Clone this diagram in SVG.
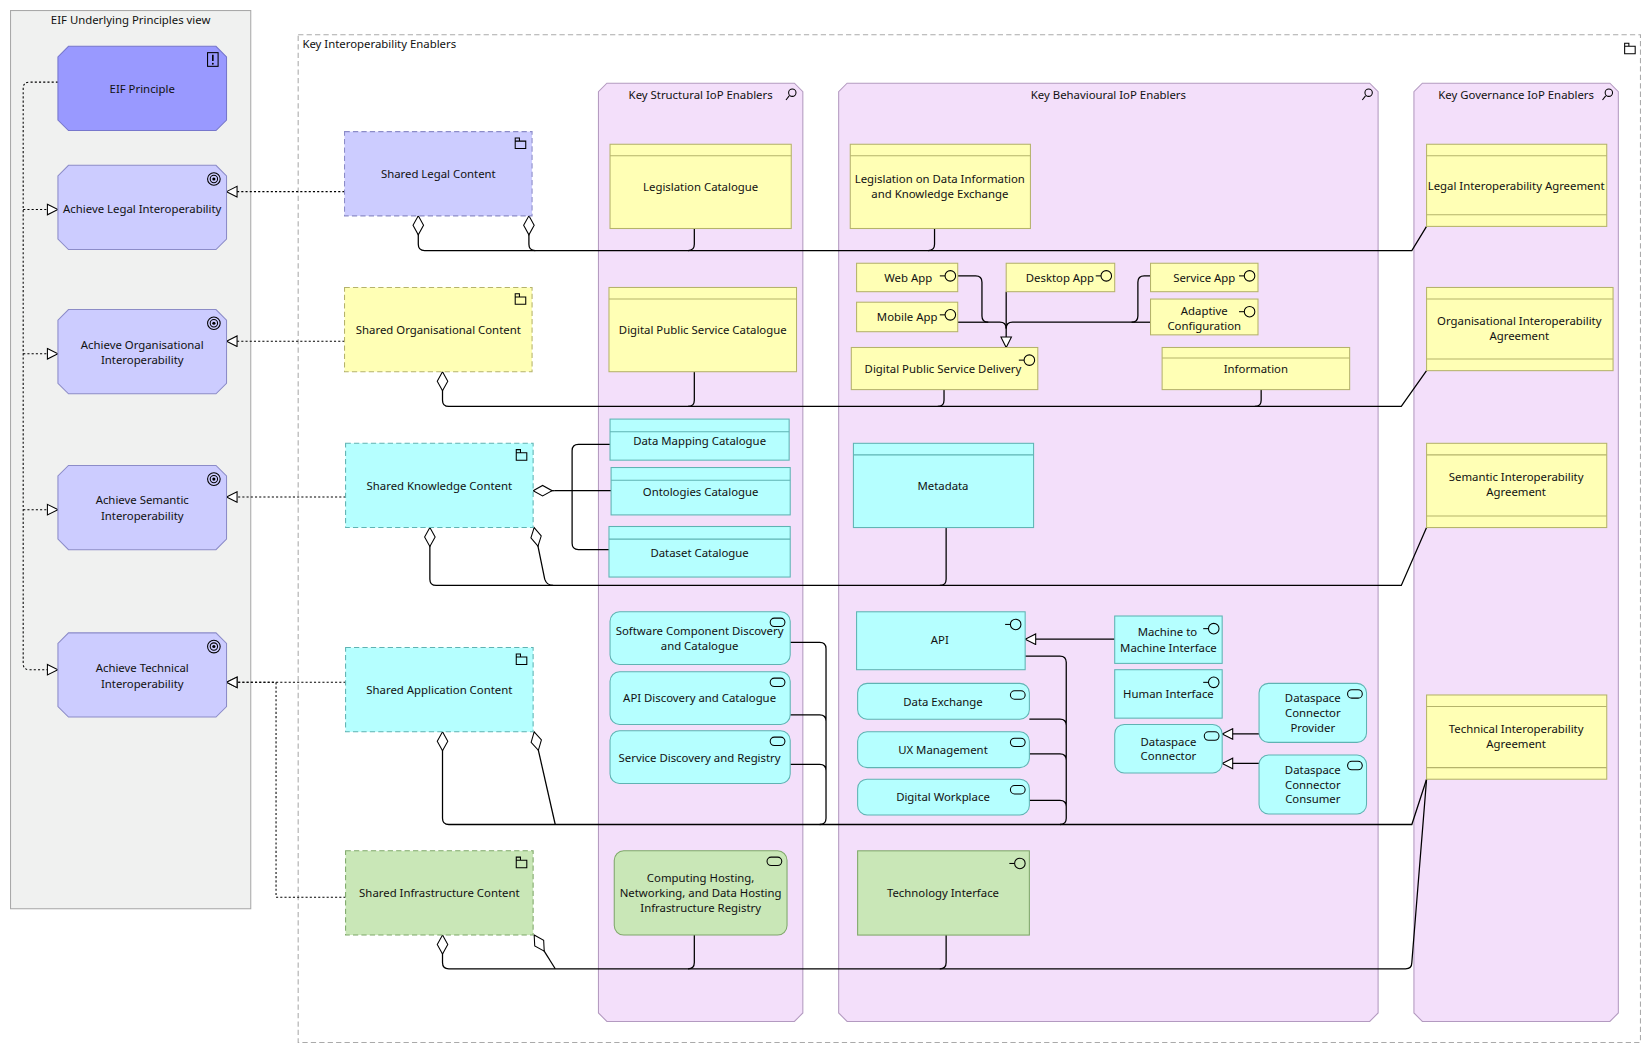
<svg xmlns="http://www.w3.org/2000/svg" width="1652" height="1053" viewBox="0 0 1652 1053">
<style>
text{font-family:"Noto Sans","Open Sans",sans-serif;font-size:10.8px;fill:#111;text-anchor:middle}
.lt{text-anchor:start}
.pr{fill:#ccccff;stroke:#8c8cc8;stroke-width:1}
.yel{fill:#ffffb5;stroke:#b5b36b;stroke-width:1}
.cy{fill:#b5ffff;stroke:#5fb3b3;stroke-width:1}
.gr{fill:#c9e7b7;stroke:#7fa86a;stroke-width:1}
.dash{stroke-dasharray:5 3}
.grp{fill:#f3dffa;stroke:#b39ac0;stroke-width:1}
.ln{fill:none;stroke:#000;stroke-width:1.2}
.dot{fill:none;stroke:#000;stroke-width:1;stroke-dasharray:2 2}
.ic{fill:none;stroke:#000;stroke-width:1}
</style>
<defs>
<marker id="tri" viewBox="0 0 12 12" refX="11" refY="6" markerWidth="12" markerHeight="12" markerUnits="userSpaceOnUse" orient="auto"><path d="M1,1 L11,6 L1,11 Z" fill="#fff" stroke="#000"/></marker>
<marker id="dia" viewBox="0 0 20 12" refX="1" refY="6" markerWidth="20" markerHeight="12" markerUnits="userSpaceOnUse" orient="auto"><path d="M1,6 L10,1 L19,6 L10,11 Z" fill="#fff" stroke="#000"/></marker>
<g id="goal"><circle r="6" class="ic"/><circle r="3.5" class="ic"/><circle r="1.5" fill="#000"/></g>
<g id="fold"><path d="M-5,-2 h10 v7 h-10 z M-5,-2 v-3 h4 v3" class="ic"/></g>
<g id="itf"><line x1="-10" y1="0" x2="-5" y2="0" class="ic"/><circle r="5" class="ic"/></g>
<g id="svc"><rect x="-7" y="-4" width="14" height="8" rx="4" class="ic"/></g>
</defs>
<g transform="scale(1.0536,1.053)">
<rect x="10" y="10" width="228" height="853" fill="#f0f1f0" stroke="#a9a9a9"/>
<text x="124" y="23" font-size="10.5">EIF Underlying Principles view</text>
<rect x="283" y="33" width="1274" height="957" fill="none" stroke="#aaa" stroke-dasharray="5 3"/>
<text x="287" y="46" class="lt" font-size="10.5">Key Interoperability Enablers</text>
<use href="#fold" x="1547" y="46"/>

<g id="structural"><path d="M576,79 H754 L762,87 V962 L754,970 H576 L568,962 V87 Z" class="grp"/><text x="665" y="94">Key Structural IoP Enablers</text><circle cx="752" cy="88" r="3.5" class="ic"/><line x1="749" y1="91" x2="746" y2="95" class="ic"/></g>
<g id="behavioural"><path d="M804,79 H1300 L1308,87 V962 L1300,970 H804 L796,962 V87 Z" class="grp"/><text x="1052" y="94">Key Behavioural IoP Enablers</text><circle cx="1299" cy="88" r="3.5" class="ic"/><line x1="1296" y1="91" x2="1293" y2="95" class="ic"/></g>
<g id="governance"><path d="M1350,79 H1528 L1536,87 V962 L1528,970 H1350 L1342,962 V87 Z" class="grp"/><text x="1439" y="94">Key Governance IoP Enablers</text><circle cx="1527" cy="88" r="3.5" class="ic"/><line x1="1524" y1="91" x2="1521" y2="95" class="ic"/></g>

<g id="connectors">
<path d="M55,78 H28 Q22,78 22,84 V630 Q22,636 28,636 H55" class="dot" marker-end="url(#tri)"/>
<path d="M22,199 H55" class="dot" marker-end="url(#tri)"/>
<path d="M22,336 H55" class="dot" marker-end="url(#tri)"/>
<path d="M22,484 H55" class="dot" marker-end="url(#tri)"/>
<path d="M327,182 H215" class="dot" marker-end="url(#tri)"/>
<path d="M327,324 H215" class="dot" marker-end="url(#tri)"/>
<path d="M328,472 H215" class="dot" marker-end="url(#tri)"/>
<path d="M328,648 H215" class="dot" marker-end="url(#tri)"/>
<path d="M328,852 H262 V648 H215" class="dot" marker-end="url(#tri)"/>
<path d="M397,205 V232 Q397,238 403,238 H1340 L1354,215" class="ln" marker-start="url(#dia)"/>
<path d="M502,205 V232 Q502,238 508,238" class="ln" marker-start="url(#dia)"/>
<path d="M659,217 V232 Q659,238 653,238" class="ln"/>
<path d="M887,217 V232 Q887,238 881,238" class="ln"/>
<path d="M420,353 V380 Q420,386 426,386 H1330 L1354,352" class="ln" marker-start="url(#dia)"/>
<path d="M659,353 V380 Q659,386 653,386" class="ln"/>
<path d="M896,370 V380 Q896,386 890,386" class="ln"/>
<path d="M1197,370 V380 Q1197,386 1191,386" class="ln"/>
<path d="M579,422 H549 Q543,422 543,428 V516 Q543,522 549,522 H578 M526,466 H580" class="ln"/>
<path d="M506,466 H526" class="ln" marker-start="url(#dia)"/>
<path d="M408,501 V550 Q408,556 414,556 H1330 L1354,501" class="ln" marker-start="url(#dia)"/>
<path d="M507,501 L517,550 Q519,556 525,556" class="ln" marker-start="url(#dia)"/>
<path d="M898,501 V550 Q898,556 892,556" class="ln"/>
<path d="M420,695 V777 Q420,783 426,783 H1340 L1354,740" class="ln" marker-start="url(#dia)"/>
<path d="M507,695 L527,783" class="ln" marker-start="url(#dia)"/>
<path d="M750,610 H778 Q784,610 784,616 V777 Q784,783 778,783 M750,679 H778 Q784,679 784,685 M750,726 H778 Q784,726 784,732" class="ln"/>
<path d="M973,623 H1006 Q1012,623 1012,629 V777 Q1012,783 1006,783 M977,683 H1006 Q1012,683 1012,689 M977,716 H1006 Q1012,716 1012,722 M977,760 H1006 Q1012,760 1012,766" class="ln"/>
<path d="M420,888 V914 Q420,920 426,920 H1334 Q1340,920 1340,914 L1354,740" class="ln" marker-start="url(#dia)"/>
<path d="M507,888 L527,920" class="ln" marker-start="url(#dia)"/>
<path d="M659,888 V914 Q659,920 653,920" class="ln"/>
<path d="M898,888 V914 Q898,920 892,920" class="ln"/>
<path d="M909,262 H926 Q932,262 932,268 V300 Q932,306 938,306 H949 Q955,306 955,312 V330" class="ln" marker-end="url(#tri)"/>
<path d="M909,306 H938" class="ln"/>
<path d="M955,277 V312" class="ln"/>
<path d="M1092,262 H1086 Q1080,262 1080,268 V300 Q1080,306 1074,306 H961 Q955,306 955,312" class="ln"/>
<path d="M1092,306 H1074" class="ln"/>
<path d="M1058,607 H973" class="ln" marker-end="url(#tri)"/>
<path d="M1195,697 H1160" class="ln" marker-end="url(#tri)"/>
<path d="M1195,725 H1160" class="ln" marker-end="url(#tri)"/>
</g>

<g id="eif-principle"><path d="M65,44 H205 L215,54 V114 L205,124 H65 L55,114 V54 Z" fill="#9999ff" stroke="#7777cc"/><text x="135" y="88">EIF Principle</text><rect x="197" y="50" width="10" height="13" class="ic"/><line x1="202" y1="52" x2="202" y2="58" stroke="#000" stroke-width="1.5"/><circle cx="202" cy="60.5" r="0.9"/></g>
<g id="achieve-legal"><path d="M65,157 H205 L215,167 V227 L205,237 H65 L55,227 V167 Z" class="pr"/><text x="135" y="202">Achieve Legal Interoperability</text><use href="#goal" x="203" y="170"/></g>
<g id="achieve-org"><path d="M65,294 H205 L215,304 V364 L205,374 H65 L55,364 V304 Z" class="pr"/><text x="135" y="331">Achieve Organisational</text><text x="135" y="346">Interoperability</text><use href="#goal" x="203" y="307"/></g>
<g id="achieve-sem"><path d="M65,442 H205 L215,452 V512 L205,522 H65 L55,512 V452 Z" class="pr"/><text x="135" y="479">Achieve Semantic</text><text x="135" y="494">Interoperability</text><use href="#goal" x="203" y="455"/></g>
<g id="achieve-tech"><path d="M65,601 H205 L215,611 V671 L205,681 H65 L55,671 V611 Z" class="pr"/><text x="135" y="638">Achieve Technical</text><text x="135" y="653">Interoperability</text><use href="#goal" x="203" y="614"/></g>

<g id="shared-legal"><rect x="327" y="125" width="178" height="80" class="pr dash"/><text x="416" y="169">Shared Legal Content</text><use href="#fold" x="494" y="136"/></g>
<g id="shared-org"><rect x="327" y="273" width="178" height="80" class="yel dash"/><text x="416" y="317">Shared Organisational Content</text><use href="#fold" x="494" y="284"/></g>
<g id="shared-know"><rect x="328" y="421" width="178" height="80" class="cy dash"/><text x="417" y="465">Shared Knowledge Content</text><use href="#fold" x="495" y="432"/></g>
<g id="shared-app"><rect x="328" y="615" width="178" height="80" class="cy dash"/><text x="417" y="659">Shared Application Content</text><use href="#fold" x="495" y="626"/></g>
<g id="shared-infra"><rect x="328" y="808" width="178" height="80" class="gr dash"/><text x="417" y="852">Shared Infrastructure Content</text><use href="#fold" x="495" y="819"/></g>

<g id="legislation-catalogue"><rect x="579" y="137" width="172" height="80" class="yel"/><line x1="579" y1="148" x2="751" y2="148" class="yel"/><text x="665" y="181">Legislation Catalogue</text></g>
<g id="dps-catalogue"><rect x="578" y="273" width="178" height="80" class="yel"/><line x1="578" y1="284" x2="756" y2="284" class="yel"/><text x="667" y="317">Digital Public Service Catalogue</text></g>
<g id="data-mapping"><rect x="579" y="398" width="170" height="39" class="cy"/><line x1="579" y1="410" x2="749" y2="410" class="cy"/><text x="664" y="423">Data Mapping Catalogue</text></g>
<g id="ontologies"><rect x="580" y="444" width="170" height="45" class="cy"/><line x1="580" y1="456" x2="750" y2="456" class="cy"/><text x="665" y="471">Ontologies Catalogue</text></g>
<g id="dataset"><rect x="578" y="500" width="172" height="48" class="cy"/><line x1="578" y1="512" x2="750" y2="512" class="cy"/><text x="664" y="529">Dataset Catalogue</text></g>
<g id="software-comp"><rect x="579" y="581" width="171" height="50" rx="9" class="cy"/><text x="664" y="603">Software Component Discovery</text><text x="664" y="617">and Catalogue</text><use href="#svc" x="738" y="591"/></g>
<g id="api-discovery"><rect x="579" y="638" width="171" height="50" rx="9" class="cy"/><text x="664" y="667">API Discovery and Catalogue</text><use href="#svc" x="738" y="648"/></g>
<g id="service-discovery"><rect x="579" y="694" width="171" height="50" rx="9" class="cy"/><text x="664" y="724">Service Discovery and Registry</text><use href="#svc" x="738" y="704"/></g>
<g id="computing"><rect x="583" y="808" width="164" height="80" rx="9" class="gr"/><text x="665" y="838">Computing Hosting,</text><text x="665" y="852">Networking, and Data Hosting</text><text x="665" y="866">Infrastructure Registry</text><use href="#svc" x="735" y="818"/></g>

<g id="legislation-data"><rect x="807" y="137" width="171" height="80" class="yel"/><line x1="807" y1="148" x2="978" y2="148" class="yel"/><text x="892" y="174">Legislation on Data Information</text><text x="892" y="188">and Knowledge Exchange</text></g>
<g id="web-app"><rect x="813" y="250" width="96" height="27" class="yel"/><text x="862" y="268">Web App</text><use href="#itf" x="902" y="262"/></g>
<g id="mobile-app"><rect x="813" y="287" width="96" height="28" class="yel"/><text x="861" y="305">Mobile App</text><use href="#itf" x="902" y="299"/></g>
<g id="desktop-app"><rect x="955" y="250" width="103" height="27" class="yel"/><text x="1006" y="268">Desktop App</text><use href="#itf" x="1050" y="262"/></g>
<g id="service-app"><rect x="1092" y="250" width="102" height="27" class="yel"/><text x="1143" y="268">Service App</text><use href="#itf" x="1186" y="262"/></g>
<g id="adaptive"><rect x="1092" y="284" width="102" height="34" class="yel"/><text x="1143" y="299">Adaptive</text><text x="1143" y="313">Configuration</text><use href="#itf" x="1186" y="296"/></g>
<g id="dps-delivery"><rect x="808" y="330" width="177" height="40" class="yel"/><text x="895" y="354">Digital Public Service Delivery</text><use href="#itf" x="977" y="342"/></g>
<g id="information"><rect x="1103" y="330" width="178" height="40" class="yel"/><line x1="1103" y1="340" x2="1281" y2="340" class="yel"/><text x="1192" y="354">Information</text></g>
<g id="metadata"><rect x="810" y="421" width="171" height="80" class="cy"/><line x1="810" y1="432" x2="981" y2="432" class="cy"/><text x="895" y="465">Metadata</text></g>
<g id="api"><rect x="813" y="581" width="160" height="55" class="cy"/><text x="892" y="612">API</text><use href="#itf" x="964" y="593"/></g>
<g id="data-exchange"><rect x="814" y="649" width="163" height="34" rx="9" class="cy"/><text x="895" y="670">Data Exchange</text><use href="#svc" x="966" y="660"/></g>
<g id="ux"><rect x="814" y="695" width="163" height="34" rx="9" class="cy"/><text x="895" y="716">UX Management</text><use href="#svc" x="966" y="705"/></g>
<g id="workplace"><rect x="814" y="740" width="163" height="34" rx="9" class="cy"/><text x="895" y="761">Digital Workplace</text><use href="#svc" x="966" y="750"/></g>
<g id="m2m"><rect x="1058" y="585" width="102" height="45" class="cy"/><text x="1108" y="604">Machine to</text><text x="1109" y="619">Machine Interface</text><use href="#itf" x="1152" y="597"/></g>
<g id="human"><rect x="1058" y="636" width="102" height="46" class="cy"/><text x="1109" y="663">Human Interface</text><use href="#itf" x="1152" y="648"/></g>
<g id="connector"><rect x="1058" y="688" width="102" height="46" rx="9" class="cy"/><text x="1109" y="708">Dataspace</text><text x="1109" y="722">Connector</text><use href="#svc" x="1150" y="699"/></g>
<g id="provider"><rect x="1195" y="649" width="102" height="56" rx="9" class="cy"/><text x="1246" y="667">Dataspace</text><text x="1246" y="681">Connector</text><text x="1246" y="695">Provider</text><use href="#svc" x="1286" y="659"/></g>
<g id="consumer"><rect x="1195" y="717" width="102" height="56" rx="9" class="cy"/><text x="1246" y="735">Dataspace</text><text x="1246" y="749">Connector</text><text x="1246" y="763">Consumer</text><use href="#svc" x="1286" y="727"/></g>
<g id="tech-interface"><rect x="814" y="808" width="163" height="80" class="gr"/><text x="895" y="852">Technology Interface</text><use href="#itf" x="968" y="820"/></g>

<g id="legal-agr"><rect x="1354" y="137" width="171" height="78" class="yel"/><line x1="1354" y1="148" x2="1525" y2="148" class="yel"/><line x1="1354" y1="204" x2="1525" y2="204" class="yel"/><text x="1439" y="180">Legal Interoperability Agreement</text></g>
<g id="org-agr"><rect x="1354" y="273" width="177" height="79" class="yel"/><line x1="1354" y1="284" x2="1531" y2="284" class="yel"/><line x1="1354" y1="341" x2="1531" y2="341" class="yel"/><text x="1442" y="309">Organisational Interoperability</text><text x="1442" y="323">Agreement</text></g>
<g id="sem-agr"><rect x="1354" y="421" width="171" height="80" class="yel"/><line x1="1354" y1="432" x2="1525" y2="432" class="yel"/><line x1="1354" y1="490" x2="1525" y2="490" class="yel"/><text x="1439" y="457">Semantic Interoperability</text><text x="1439" y="471">Agreement</text></g>
<g id="tech-agr"><rect x="1354" y="660" width="171" height="80" class="yel"/><line x1="1354" y1="671" x2="1525" y2="671" class="yel"/><line x1="1354" y1="729" x2="1525" y2="729" class="yel"/><text x="1439" y="696">Technical Interoperability</text><text x="1439" y="710">Agreement</text></g>
</g>
</svg>
